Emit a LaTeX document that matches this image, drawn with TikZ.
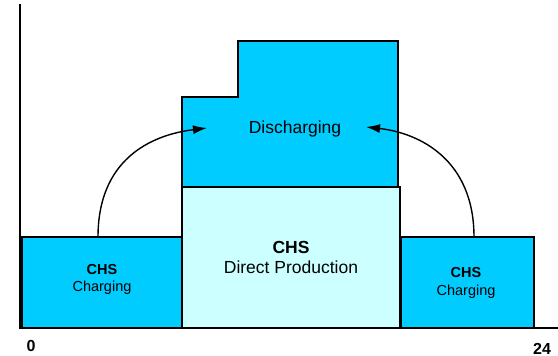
\documentclass[tikz,border=0pt]{standalone}
\usepackage{fontspec}
\setmainfont{Liberation Sans}
\usetikzlibrary{arrows.meta}
\definecolor{cyanbox}{HTML}{00CCFF}
\definecolor{lightbox}{HTML}{CCFFFF}
\tikzset{
  box/.style={draw=black, line width=1.8pt},
  axis/.style={draw=black, line width=1.8pt},
  bigtxt/.style={anchor=base, inner sep=0pt, font=\fontsize{17.5}{20}\selectfont},
  smalltxt/.style={anchor=base, inner sep=0pt, font=\fontsize{14.5}{17}\selectfont},
  ticktxt/.style={anchor=base, inner sep=0pt, font=\fontsize{16}{19}\selectfont\bfseries},
  flow/.style={draw=black, line width=1.4pt, -{Latex[length=14pt,width=9pt]}}
}
\begin{document}
\begin{tikzpicture}[x=1pt,y=-1pt]
\useasboundingbox (0,0) rectangle (558,356);
% discharging shape
\fill[cyanbox] (182,187) -- (182,97) -- (238,97) -- (238,41) -- (398,41) -- (398,187) -- cycle;
\draw[box] (182,187) -- (182,97) -- (238,97) -- (238,41) -- (398,41) -- (398,187);
% boxes
\draw[box, fill=lightbox] (182,187) rectangle (400,328);
\draw[box, fill=cyanbox] (22,237) rectangle (182,328);
\draw[box, fill=cyanbox] (401,237) rectangle (534,328);
% axes
\draw[axis] (20,4) -- (20,328) -- (558,328);
% texts
\node[bigtxt] (dis) at (295,133) {Discharging};
\node[bigtxt, font=\fontsize{17.5}{20}\selectfont\bfseries] (chsm) at (291,253) {CHS};
\node[bigtxt] (dp) at (291,273) {Direct Production};
\node[smalltxt, font=\fontsize{14.5}{17}\selectfont\bfseries] (chsl) at (102,274) {CHS};
\node[smalltxt] (chl) at (102,291) {Charging};
\node[smalltxt, font=\fontsize{14.5}{17}\selectfont\bfseries] (chsr) at (466,277) {CHS};
\node[smalltxt] (chr) at (466,295) {Charging};
\node[ticktxt] (t0) at (31,351) {0};
\node[ticktxt] (t24) at (542,354) {24};
% arrows
\coordinate (ls) at (98,237);
\coordinate (le) at (207,128);
\coordinate (rs) at (474,237);
\coordinate (re) at (366,127);
\draw[flow] (ls) .. controls (98,160) and (150,135) .. (le);
\draw[flow] (rs) .. controls (474,160) and (420,133) .. (re);
\end{tikzpicture}
\end{document}
